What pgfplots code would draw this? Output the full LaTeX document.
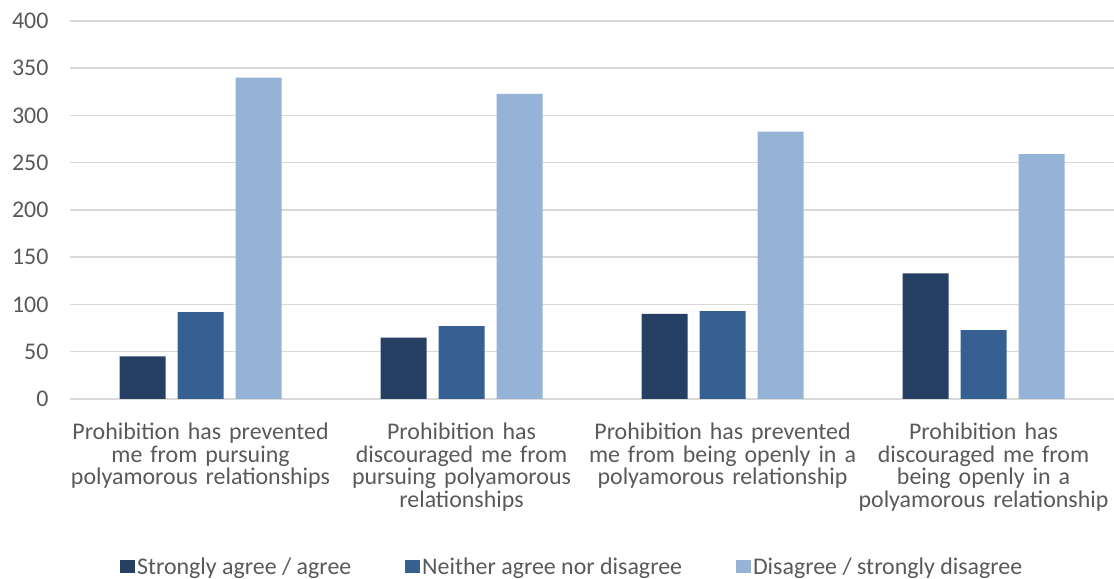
\documentclass[border=0pt]{standalone}
\usepackage{pgfplots}
\pgfplotsset{compat=1.18}
\usepackage{fontspec}
\setmainfont{Carlito}
\definecolor{cA}{HTML}{264064}
\definecolor{cB}{HTML}{376092}
\definecolor{cC}{HTML}{95B3D7}
\definecolor{gridc}{HTML}{D9D9D9}
\definecolor{txt}{HTML}{595959}
\newcommand{\lblfont}{\fontsize{24}{23}\selectfont}
\begin{document}
\begin{tikzpicture}[x=1bp,y=1bp]
\path[use as bounding box] (0,0) rectangle (1114,579);
\begin{axis}[
  at={(70bp,180bp)}, anchor=south west,
  scale only axis, width=1044bp, height=378bp,
  xmin=-0.5, xmax=3.5, ymin=0, ymax=400,
  ytick={0,50,...,400},
  xtick={0,1,2,3},
  xticklabels={{Prohibition has prevented\\me from pursuing\\polyamorous relationships},
               {Prohibition has\\discouraged me from\\pursuing polyamorous\\relationships},
               {Prohibition has prevented\\me from being openly in a\\polyamorous relationship},
               {Prohibition has\\discouraged me from\\being openly in a\\polyamorous relationship}},
  xticklabel style={align=center, text width=300bp, font=\lblfont, text=txt, yshift=-20bp},
  /pgf/number format/assume math mode=true,
  yticklabel={\pgfmathprintnumber{\tick}},
  yticklabel style={font=\lblfont, text=txt, xshift=-18bp},
  axis line style={draw=none},
  major tick length=0pt,
  ymajorgrids, grid style={draw=gridc, line width=1.5bp},
  ybar=12bp, bar width=46bp,
  legend style={at={(0.481,-0.444)}, anchor=center, legend columns=3, draw=none,
     font=\lblfont, text=txt,
     /tikz/every even column/.append style={column sep=52bp}},
  legend image code/.code={\fill[#1] (0bp,-6bp) rectangle (15bp,7bp);},
]
\addplot[fill=cA, draw=none] coordinates {(0,45) (1,65) (2,90) (3,133)};
\addplot[fill=cB, draw=none] coordinates {(0,92) (1,77) (2,93) (3,73)};
\addplot[fill=cC, draw=none] coordinates {(0,340) (1,323) (2,283) (3,259)};
\legend{Strongly agree / agree, Neither agree nor disagree, Disagree / strongly disagree}
\end{axis}
\end{tikzpicture}
\end{document}
